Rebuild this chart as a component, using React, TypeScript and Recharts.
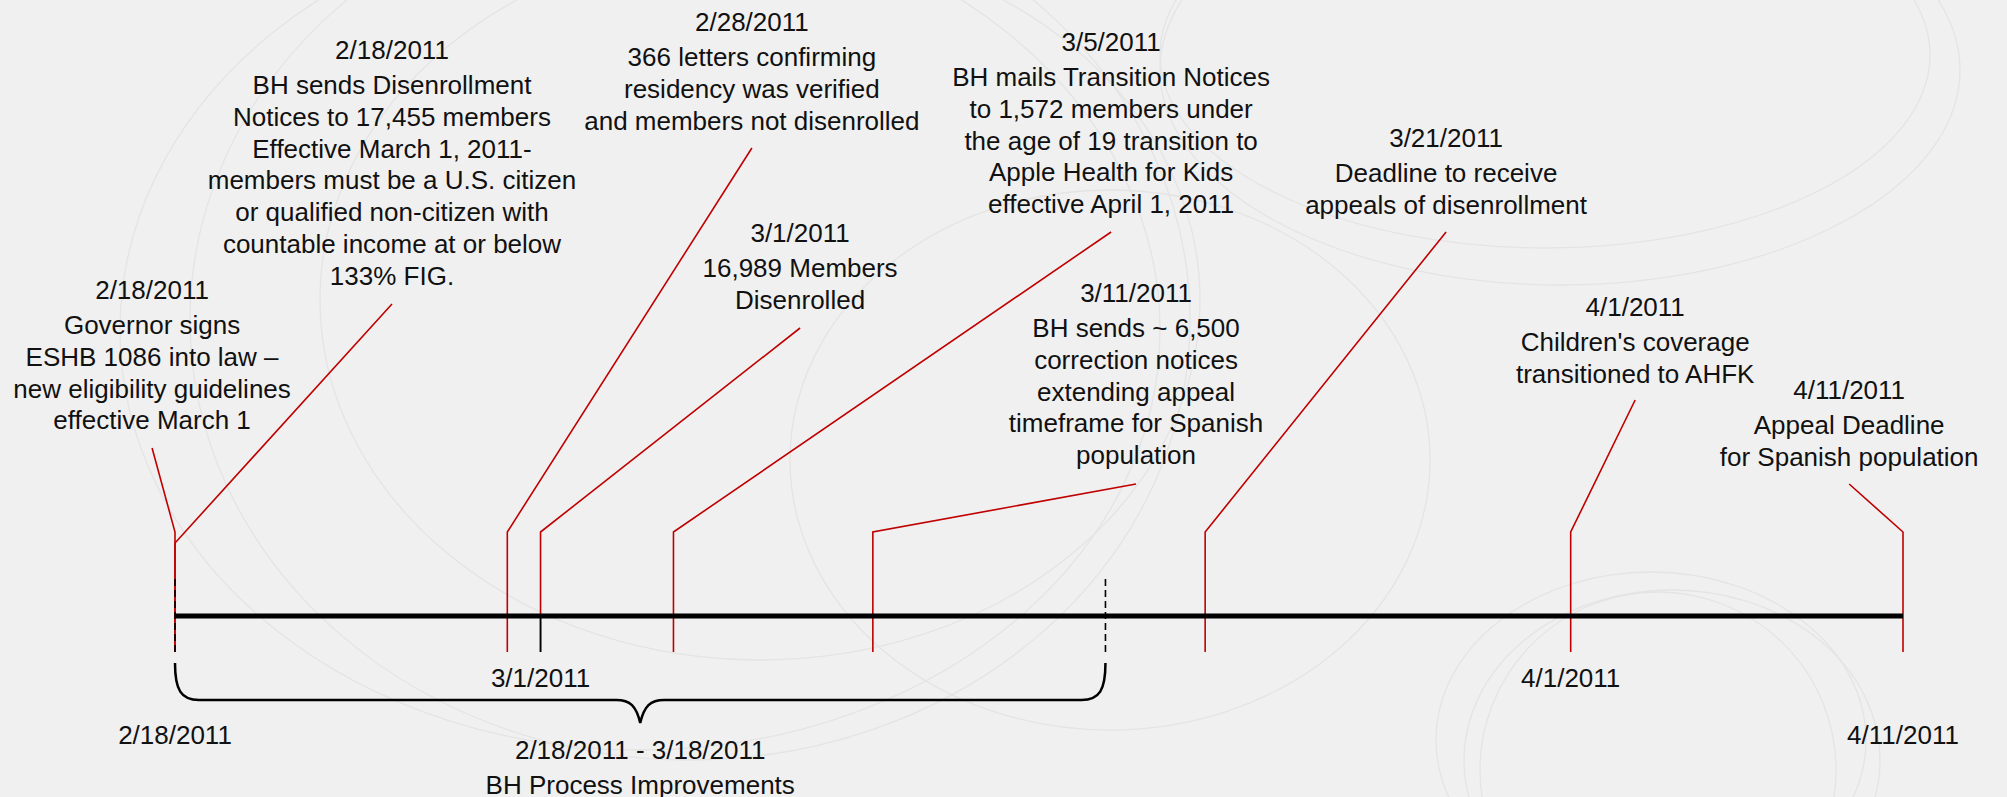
import { ComposedChart, Line, Scatter, ReferenceArea, XAxis, YAxis } from "recharts";

// days are counted from 2/18/2011
const eventDays = [0, 0, 10, 11, 15, 21, 31, 42, 52];
const eventDates = ["2/18/2011", "2/18/2011", "2/28/2011", "3/1/2011", "3/5/2011", "3/11/2011", "3/21/2011", "4/1/2011", "4/11/2011"];
const eventTexts = [
  ["Governor signs", "ESHB 1086 into law –", "new eligibility guidelines", "effective March 1"],
  ["BH sends Disenrollment", "Notices to 17,455 members", "Effective March 1, 2011-", "members must be a U.S. citizen", "or qualified non-citizen with", "countable income at or below", "133% FIG."],
  ["366 letters confirming", "residency was verified", "and members not disenrolled"],
  ["16,989 Members", "Disenrolled"],
  ["BH mails Transition Notices", "to 1,572 members under", "the age of 19 transition to", "Apple Health for Kids", "effective April 1, 2011"],
  ["BH sends ~ 6,500", "correction notices", "extending appeal", "timeframe for Spanish", "population"],
  ["Deadline to receive", "appeals of disenrollment"],
  ["Children's coverage", "transitioned to AHFK"],
  ["Appeal Deadline", "for Spanish population"],
];

const axisTickDays = [0, 11, 42, 52];
const axisTickLabels = ["2/18/2011", "3/1/2011", "4/1/2011", "4/11/2011"];

const periodDays = [0, 28];
const periodLabel = ["2/18/2011 - 3/18/2011", "BH Process Improvements"];

const TOTAL_DAYS = 52;

// layout of the callouts (x in days on the time scale, y in px from top)
const calloutDay = [-0.69, 6.53, 17.36, 18.81, 28.17, 28.92, 38.25, 43.94, 50.38];
const calloutTop = [290, 50, 22, 233, 42, 293, 138, 307, 390];
const leaderEndY = [448, 304, 148, 328, 232, 484, 232, 400, 484];
const elbowY = [532, 543, 532, 532, 532, 532, 532, 532, 532];
const tickLabelY = [735, 678, 678, 735];

const W = 2007;
const H = 797;
const LINE_Y = 616;
const TICK_BOTTOM = 652;
const RED = "#c00000";
const FONT = "'Liberation Sans', Arial, sans-serif";

// one spare day on each side so nothing gets clipped; 2/18 sits at x=175, 4/11 at x=1903
const PX_PER_DAY = (1903 - 175) / TOTAL_DAYS;
const X_DOMAIN = [-1, TOTAL_DAYS + 1];

const callouts = eventDays.map((d, i) => ({
  x: calloutDay[i],
  y: calloutTop[i],
  lines: [eventDates[i], ...eventTexts[i]],
}));

const tickTexts = axisTickDays.map((d, i) => ({ x: d, y: tickLabelY[i], lines: [axisTickLabels[i]] }));
const periodText = [{ x: (periodDays[0] + periodDays[1]) / 2, y: 750, lines: periodLabel }];

const TextBlock = (props: any) => {
  const { cx, cy, payload } = props;
  if (cx == null || cy == null) return null;
  const lines: string[] = payload.lines;
  return (
    <text x={cx} textAnchor="middle" fontFamily={FONT} fontSize={26} fill="#111">
      {lines.map((l, k) => (
        <tspan key={k} x={cx} y={cy + (k === 0 ? 0 : 35 + (k - 1) * 31.7)} dy="0.36em">
          {l}
        </tspan>
      ))}
    </text>
  );
};

const Brace = (props: any) => {
  const { x, y, width, height } = props;
  const top = y;
  const mid = y + 37;
  const bot = y + height;
  const cx = x + width / 2;
  const r = 24;
  const d = [
    `M${x},${top}`,
    `C${x},${mid - 10} ${x + 6},${mid} ${x + r},${mid}`,
    `L${cx - r},${mid}`,
    `C${cx - 10},${mid} ${cx - 4},${mid + 6} ${cx},${bot}`,
    `C${cx + 4},${mid + 6} ${cx + 10},${mid} ${cx + r},${mid}`,
    `L${x + width - r},${mid}`,
    `C${x + width - 6},${mid} ${x + width},${mid - 10} ${x + width},${top}`,
  ].join(" ");
  return <path d={d} fill="none" stroke="#000" strokeWidth={2.5} />;
};

const Swirls = () => (
  <svg width={W} height={H} style={{ position: "absolute", left: 0, top: 0 }}>
    <g fill="none" stroke="#e4e4e4" strokeWidth={1.3}>
      <ellipse cx={1545} cy={55} rx={385} ry={193} />
      <ellipse cx={1560} cy={70} rx={400} ry={215} />
      <ellipse cx={640} cy={330} rx={520} ry={420} />
      <ellipse cx={690} cy={320} rx={500} ry={440} />
      <ellipse cx={760} cy={300} rx={440} ry={360} />
      <ellipse cx={1651} cy={740} rx={215} ry={168} />
      <ellipse cx={1672} cy={760} rx={208} ry={170} />
      <ellipse cx={1658} cy={770} rx={178} ry={178} />
      <ellipse cx={1110} cy={460} rx={320} ry={270} />
    </g>
  </svg>
);

const App = () => {
  return (
    <div style={{ position: "absolute", left: 0, top: 0, width: W, height: H, background: "#f0f0f0" }}>
      <Swirls />
      <div style={{ position: "absolute", left: 0, top: 0 }}>
        <ComposedChart
          width={W}
          height={H}
          margin={{ top: 0, right: W - 1903 - PX_PER_DAY, bottom: 0, left: 175 - PX_PER_DAY }}
        >
          <XAxis type="number" dataKey="x" domain={X_DOMAIN} hide />
          <YAxis type="number" dataKey="y" domain={[0, H]} reversed hide />
          {eventDays.map((d, i) => (
            <Line
              key={`leader-${i}`}
              data={[
                { x: d, y: TICK_BOTTOM },
                { x: d, y: elbowY[i] },
                { x: calloutDay[i], y: leaderEndY[i] },
              ]}
              dataKey="y"
              type="linear"
              stroke={RED}
              strokeWidth={1.6}
              dot={false}
              activeDot={false}
              isAnimationActive={false}
            />
          ))}
          <Line
            data={[{ x: 11, y: LINE_Y }, { x: 11, y: TICK_BOTTOM }]}
            dataKey="y"
            stroke="#000"
            strokeWidth={1.6}
            dot={false}
            isAnimationActive={false}
          />
          {periodDays.map((d, i) => (
            <Line
              key={`dash-${i}`}
              data={[{ x: d, y: 579 }, { x: d, y: TICK_BOTTOM }]}
              dataKey="y"
              stroke="#000"
              strokeWidth={1.6}
              strokeDasharray="7 4"
              dot={false}
              isAnimationActive={false}
            />
          ))}
          <Line
            data={[{ x: 0, y: LINE_Y }, { x: TOTAL_DAYS, y: LINE_Y }]}
            dataKey="y"
            stroke="#000"
            strokeWidth={5}
            dot={false}
            isAnimationActive={false}
          />
          <ReferenceArea x1={periodDays[0]} x2={periodDays[1]} y1={663} y2={723} shape={<Brace />} />
          <Scatter data={callouts} dataKey="y" shape={<TextBlock />} isAnimationActive={false} />
          <Scatter data={tickTexts} dataKey="y" shape={<TextBlock />} isAnimationActive={false} />
          <Scatter data={periodText} dataKey="y" shape={<TextBlock />} isAnimationActive={false} />
        </ComposedChart>
      </div>
    </div>
  );
};

export default App;
